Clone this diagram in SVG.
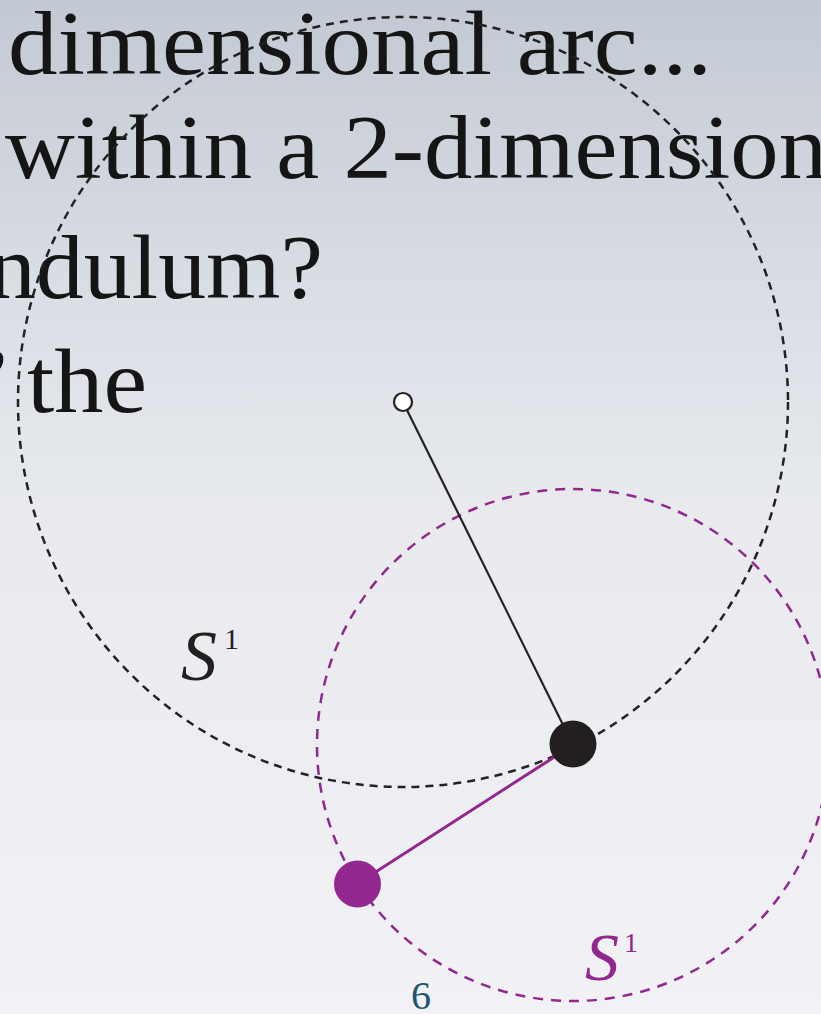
<svg xmlns="http://www.w3.org/2000/svg" width="821" height="1014" viewBox="0 0 821 1014">
  <defs>
    <linearGradient id="bg" x1="0" y1="0" x2="0" y2="1">
      <stop offset="0" stop-color="#c3c9d3"/>
      <stop offset="0.28" stop-color="#d9dde4"/>
      <stop offset="0.5" stop-color="#e8eaee"/>
      <stop offset="1" stop-color="#f2f2f6"/>
    </linearGradient>
    <style>
      .big { font-family: "Liberation Serif", "DejaVu Serif", serif; font-size: 90px; fill: #151515; }
      .lab { font-family: "Liberation Serif", "DejaVu Serif", serif; font-style: italic; }
      .sup { font-style: normal; }
      .orbit-k { fill: none; stroke: #222; stroke-width: 2.5; stroke-dasharray: 8 6; }
      .orbit-p { fill: none; stroke: #92278f; stroke-width: 2.5; stroke-dasharray: 10 8; }
    </style>
  </defs>
  <rect x="0" y="0" width="821" height="1014" fill="url(#bg)"/>

  <g id="slide-text">
    <text class="big" x="8" y="74" textLength="704" lengthAdjust="spacingAndGlyphs">dimensional arc...</text>
    <text class="big" x="5" y="178" textLength="822" lengthAdjust="spacingAndGlyphs">within a 2-dimension</text>
    <text class="big" x="-12" y="298" textLength="335" lengthAdjust="spacingAndGlyphs">ndulum?</text>
    <text class="big" x="-18" y="412" font-size="70">’</text>
    <text class="big" x="27" y="412" textLength="120" lengthAdjust="spacingAndGlyphs">the</text>
  </g>

  <g id="orbits">
    <circle id="orbit-black" class="orbit-k" cx="403" cy="402" r="385"/>
    <circle id="orbit-purple" class="orbit-p" cx="573" cy="745" r="256"/>
  </g>

  <g id="connectors">
    <line x1="403" y1="402" x2="573" y2="745" stroke="#222" stroke-width="2.2"/>
    <line x1="573" y1="745" x2="357" y2="884" stroke="#92278f" stroke-width="3"/>
  </g>

  <g id="pivot">
    <circle cx="403" cy="402" r="9" fill="#ffffff" stroke="#222" stroke-width="2.2"/>
  </g>
  <g id="bob-black">
    <circle cx="573" cy="744" r="23.5" fill="#231f20"/>
  </g>
  <g id="bob-purple">
    <circle cx="357.5" cy="884" r="23.5" fill="#92278f"/>
  </g>

  <g id="label-black">
    <text class="lab" x="181" y="680" font-size="72" fill="#231f20">S<tspan class="sup" dx="7" dy="-31" font-size="30">1</tspan></text>
  </g>
  <g id="label-purple">
    <text class="lab" x="585" y="980" font-size="68" fill="#92278f">S<tspan class="sup" dx="5" dy="-28" font-size="28">1</tspan></text>
  </g>
  <g id="page-number">
    <text x="411" y="1009" font-family="Liberation Serif, DejaVu Serif, serif" font-size="40" fill="#1f5570">6</text>
  </g>
</svg>
